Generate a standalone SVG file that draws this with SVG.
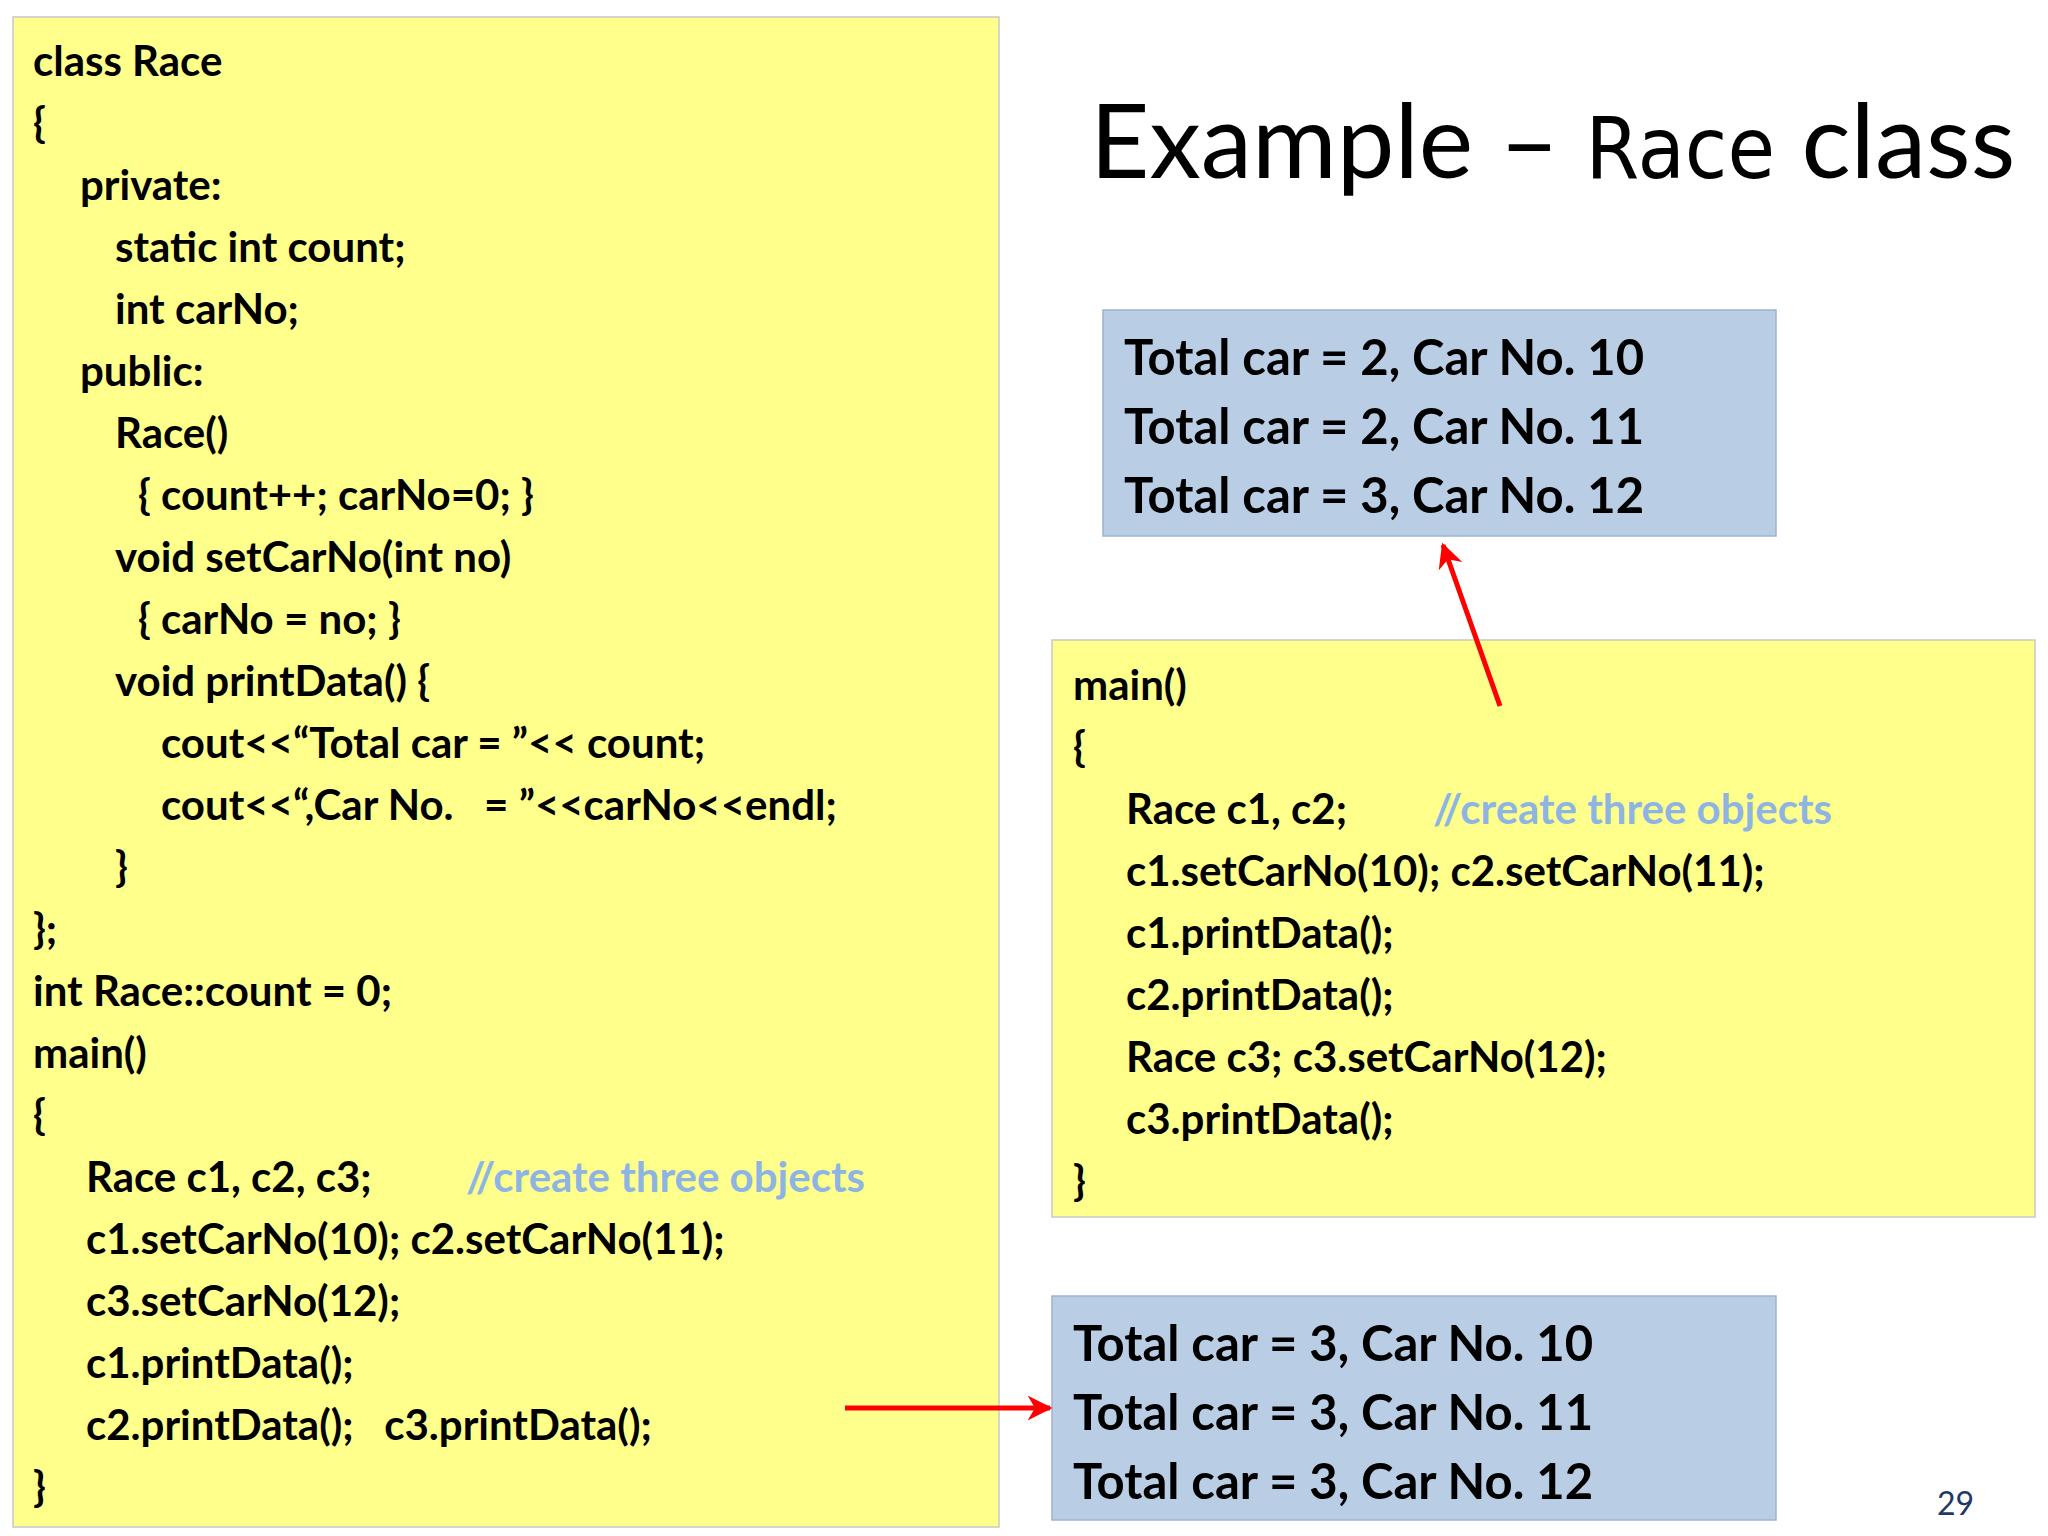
<svg xmlns="http://www.w3.org/2000/svg" width="2048" height="1536" viewBox="0 0 2048 1536">
<defs>
<style>
.code{font-family:Lato,"Open Sans",sans-serif;font-weight:bold;font-size:42px;fill:#000}
.out{font-family:Lato,"Open Sans",sans-serif;font-weight:bold;font-size:49px;fill:#000}
.cm{fill:#8EB4E3}
.y{fill:#FFFF8C;stroke:#C8C8C8;stroke-width:1.5}
.b{fill:#B9CDE5;stroke:#9FB3CC;stroke-width:1.5}
.arr{stroke:#FF0000;stroke-width:5;fill:none;marker-end:url(#ah)}
</style>
<marker id="ah" viewBox="0 0 10 10" refX="9" refY="5" markerWidth="5" markerHeight="5" orient="auto"><path d="M0,0 L10,5 L0,10 L3,5 z" fill="#FF0000"/></marker>
</defs>
<rect width="2048" height="1536" fill="#fff"/>
<g id="classcode">
<rect class="y" x="13" y="17" width="986" height="1510"/>
<text class="code">
<tspan x="33" y="76">class Race</tspan>
<tspan x="33" y="138">{</tspan>
<tspan x="80" y="200">private:</tspan>
<tspan x="115" y="262">static int count;</tspan>
<tspan x="115" y="324">int carNo;</tspan>
<tspan x="80" y="386">public:</tspan>
<tspan x="115" y="448">Race()</tspan>
<tspan x="138" y="510">{ count++; carNo=0; }</tspan>
<tspan x="115" y="572">void setCarNo(int no)</tspan>
<tspan x="138" y="634">{  carNo = no;  }</tspan>
<tspan x="115" y="696">void printData() {</tspan>
<tspan x="161" y="758">cout&lt;&lt;“Total car = ”&lt;&lt; count;</tspan>
<tspan x="161" y="820" xml:space="preserve">cout&lt;&lt;“,Car No.   = ”&lt;&lt;carNo&lt;&lt;endl;</tspan>
<tspan x="115" y="882">}</tspan>
<tspan x="33" y="944">};</tspan>
<tspan x="33" y="1006">int Race::count = 0;</tspan>
<tspan x="33" y="1068">main()</tspan>
<tspan x="33" y="1130">{</tspan>
<tspan x="86" y="1192">Race c1, c2, c3;</tspan><tspan x="466" y="1192" class="cm">//create three objects</tspan>
<tspan x="86" y="1254">c1.setCarNo(10);  c2.setCarNo(11);</tspan>
<tspan x="86" y="1316">c3.setCarNo(12);</tspan>
<tspan x="86" y="1378">c1.printData();</tspan>
<tspan x="86" y="1440" xml:space="preserve">c2.printData();   c3.printData();</tspan>
<tspan x="33" y="1502">}</tspan>
</text>
</g>
<g id="title">
<text x="1090" y="178" font-family="Lato,'Open Sans',sans-serif" font-size="103" fill="#000">Example – <tspan font-family="'DejaVu Sans Condensed','DejaVu Sans',sans-serif" font-stretch="condensed" font-weight="300" font-size="86">Race</tspan> class</text>
</g>
<g id="out1">
<rect class="b" x="1103" y="310" width="673" height="226"/>
<text class="out"><tspan x="1124" y="375">Total car = 2, Car No. 10</tspan><tspan x="1124" y="444">Total car = 2, Car No. 11</tspan><tspan x="1124" y="513">Total car = 3, Car No. 12</tspan></text>
</g>
<g id="maincode">
<rect class="y" x="1052" y="640" width="983" height="577"/>
<text class="code">
<tspan x="1073" y="700">main()</tspan>
<tspan x="1073" y="762">{</tspan>
<tspan x="1126" y="824">Race c1, c2;</tspan><tspan x="1433" y="824" class="cm">//create three objects</tspan>
<tspan x="1126" y="886">c1.setCarNo(10);  c2.setCarNo(11);</tspan>
<tspan x="1126" y="948">c1.printData();</tspan>
<tspan x="1126" y="1010">c2.printData();</tspan>
<tspan x="1126" y="1072">Race c3;  c3.setCarNo(12);</tspan>
<tspan x="1126" y="1134">c3.printData();</tspan>
<tspan x="1073" y="1196">}</tspan>
</text>
</g>
<g id="out2">
<rect class="b" x="1052" y="1296" width="724" height="224"/>
<text class="out"><tspan x="1073" y="1361">Total car = 3, Car No. 10</tspan><tspan x="1073" y="1430">Total car = 3, Car No. 11</tspan><tspan x="1073" y="1499">Total car = 3, Car No. 12</tspan></text>
</g>
<g id="connectors">
<line class="arr" x1="1500" y1="706" x2="1443" y2="545"/>
<line class="arr" x1="845" y1="1408" x2="1050" y2="1408"/>
</g>
<text x="1937" y="1515" font-family="Lato,sans-serif" font-size="32" fill="#1F3864">29</text>
</svg>
